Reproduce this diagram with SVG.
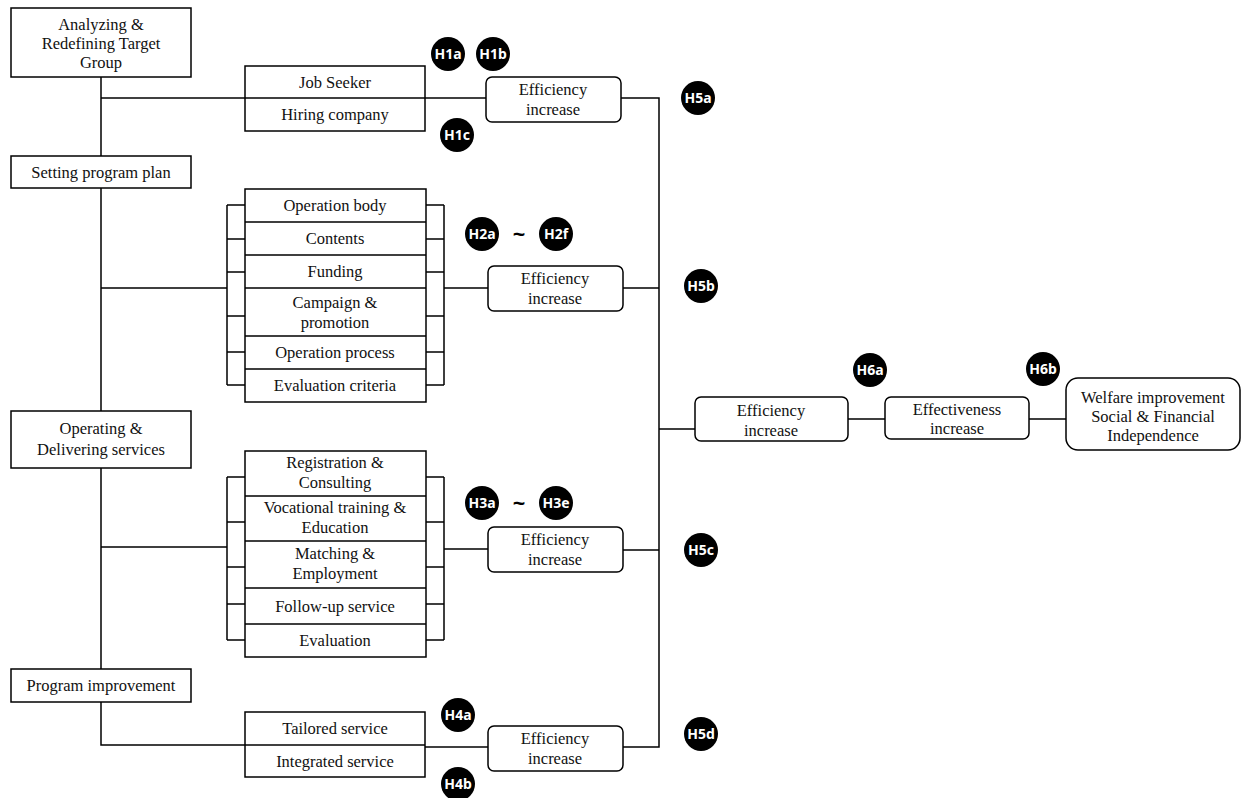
<svg xmlns="http://www.w3.org/2000/svg" width="1243" height="798" viewBox="0 0 1243 798">
<style>
.b{fill:#fff;stroke:#000;stroke-width:1.5}
.l{fill:none;stroke:#000;stroke-width:1.5}
.t{font-family:"Liberation Serif","Times New Roman","DejaVu Serif",serif;font-size:16.5px;fill:#111;text-anchor:middle}
.c{fill:#000}
.h{font-family:"Noto Sans","Open Sans",sans-serif;font-weight:bold;font-size:14px;fill:#fff;text-anchor:middle}
.tl{font-family:"Noto Sans",sans-serif;font-weight:bold;font-size:22px;fill:#000;text-anchor:middle}
</style>
<rect width="1243" height="798" fill="#fff"/>
<g id="connectors" class="l">
<path d="M101 77V745H245"/>
<path d="M101 98H486"/>
<path d="M101 288H227M227 205V385M227 205H245M227 239H245M227 272H245M227 316H245M227 352H245M227 385H245"/>
<path d="M426 205H444M426 239H444M426 272H444M426 316H444M426 352H444M426 385H444M444 205V385M444 288H488"/>
<path d="M101 547H227M227 477V640M227 477H245M227 522H245M227 567H245M227 604H245M227 640H245"/>
<path d="M426 477H444M426 522H444M426 567H444M426 604H444M426 640H444M444 477V640M444 549H488"/>
<path d="M425 747H488"/>
<path d="M621 98H659V747H623M623 288H659M623 550H659M659 429H695"/>
<path d="M848 419H885M1029 419H1066"/>
</g>
<g id="analyzing"><rect class="b" x="11" y="8" width="180" height="69"/>
<text class="t" x="101" y="30">Analyzing &amp;</text><text class="t" x="101" y="49">Redefining Target</text><text class="t" x="101" y="68">Group</text></g>
<g id="setting"><rect class="b" x="11" y="156" width="180" height="32"/><text class="t" x="101" y="178">Setting program plan</text></g>
<g id="operating"><rect class="b" x="11" y="411" width="180" height="57"/><text class="t" x="101" y="434">Operating &amp;</text><text class="t" x="101" y="455">Delivering services</text></g>
<g id="improvement"><rect class="b" x="11" y="669" width="180" height="33"/><text class="t" x="101" y="691">Program improvement</text></g>
<g id="target"><rect class="b" x="245" y="66" width="180" height="65"/><path class="l" d="M245 98H425"/>
<text class="t" x="335" y="88">Job Seeker</text><text class="t" x="335" y="120">Hiring company</text></g>
<g id="plan"><rect class="b" x="245" y="189" width="181" height="213"/>
<path class="l" d="M245 222H426M245 255H426M245 288H426M245 336H426M245 369H426"/>
<text class="t" x="335" y="211">Operation body</text><text class="t" x="335" y="244">Contents</text><text class="t" x="335" y="277">Funding</text>
<text class="t" x="335" y="308">Campaign &amp;</text><text class="t" x="335" y="328">promotion</text>
<text class="t" x="335" y="358">Operation process</text><text class="t" x="335" y="391">Evaluation criteria</text></g>
<g id="services"><rect class="b" x="245" y="451" width="181" height="206"/>
<path class="l" d="M245 496H426M245 541H426M245 588H426M245 624H426"/>
<text class="t" x="335" y="468">Registration &amp;</text><text class="t" x="335" y="488">Consulting</text>
<text class="t" x="335" y="513">Vocational training &amp;</text><text class="t" x="335" y="533">Education</text>
<text class="t" x="335" y="559">Matching &amp;</text><text class="t" x="335" y="579">Employment</text>
<text class="t" x="335" y="612">Follow-up service</text><text class="t" x="335" y="646">Evaluation</text></g>
<g id="improve"><rect class="b" x="245" y="712" width="180" height="65"/><path class="l" d="M245 745H425"/>
<text class="t" x="335" y="734">Tailored service</text><text class="t" x="335" y="767">Integrated service</text></g>
<g id="eff1"><rect class="b" x="486" y="77" width="135" height="45" rx="6"/><text class="t" x="553" y="95">Efficiency</text><text class="t" x="553" y="115">increase</text></g>
<g id="eff2"><rect class="b" x="488" y="266" width="135" height="45" rx="6"/><text class="t" x="555" y="284">Efficiency</text><text class="t" x="555" y="304">increase</text></g>
<g id="eff3"><rect class="b" x="488" y="527" width="135" height="45" rx="6"/><text class="t" x="555" y="545">Efficiency</text><text class="t" x="555" y="565">increase</text></g>
<g id="eff5"><rect class="b" x="488" y="726" width="135" height="45" rx="6"/><text class="t" x="555" y="744">Efficiency</text><text class="t" x="555" y="764">increase</text></g>
<g id="eff4"><rect class="b" x="695" y="397" width="153" height="44" rx="6"/><text class="t" x="771" y="416">Efficiency</text><text class="t" x="771" y="436">increase</text></g>
<g id="effectiveness"><rect class="b" x="885" y="397" width="144" height="42" rx="6"/><text class="t" x="957" y="415">Effectiveness</text><text class="t" x="957" y="434">increase</text></g>
<g id="welfare"><rect class="b" x="1066" y="378" width="174" height="72" rx="12"/>
<text class="t" x="1153" y="403">Welfare improvement</text><text class="t" x="1153" y="422">Social &amp; Financial</text><text class="t" x="1153" y="441">Independence</text></g>
<g id="hyp">
<circle class="c" cx="448" cy="54" r="17"/><text class="h" x="448" y="59">H1a</text>
<circle class="c" cx="493" cy="54" r="17"/><text class="h" x="493" y="59">H1b</text>
<circle class="c" cx="457" cy="135" r="17"/><text class="h" x="457" y="140">H1c</text>
<circle class="c" cx="698" cy="98" r="17"/><text class="h" x="698" y="103">H5a</text>
<circle class="c" cx="482" cy="234" r="17"/><text class="h" x="482" y="239">H2a</text>
<text class="tl" x="519" y="242">~</text>
<circle class="c" cx="556" cy="234" r="17"/><text class="h" x="556" y="239">H2f</text>
<circle class="c" cx="701" cy="286" r="17"/><text class="h" x="701" y="291">H5b</text>
<circle class="c" cx="482" cy="503" r="17"/><text class="h" x="482" y="508">H3a</text>
<text class="tl" x="519" y="511">~</text>
<circle class="c" cx="556" cy="503" r="17"/><text class="h" x="556" y="508">H3e</text>
<circle class="c" cx="701" cy="550" r="17"/><text class="h" x="701" y="555">H5c</text>
<circle class="c" cx="458" cy="715" r="17"/><text class="h" x="458" y="720">H4a</text>
<circle class="c" cx="458" cy="784" r="17"/><text class="h" x="458" y="789">H4b</text>
<circle class="c" cx="701" cy="734" r="17"/><text class="h" x="701" y="739">H5d</text>
<circle class="c" cx="870" cy="370" r="17"/><text class="h" x="870" y="375">H6a</text>
<circle class="c" cx="1043" cy="369" r="17"/><text class="h" x="1043" y="374">H6b</text>
</g>
</svg>
